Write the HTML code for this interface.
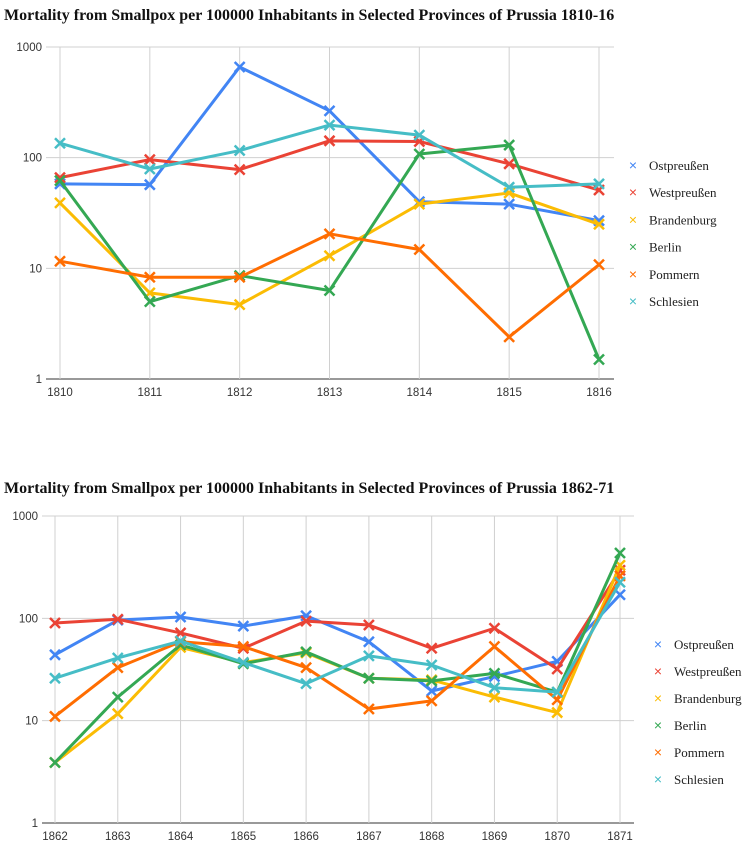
<!DOCTYPE html>
<html><head><meta charset="utf-8"><style>
body{margin:0;background:#fff;width:745px;height:844px;overflow:hidden}
svg{display:block}
.t{font-family:"Liberation Serif",serif;font-weight:bold;font-size:16px;fill:#111}
.tick{font-family:"Liberation Sans",sans-serif;font-size:11.5px;fill:#333}
.leg{font-family:"Liberation Serif",serif;font-size:13px;fill:#222}
</style></head><body>
<svg id="s" width="745" height="844">
<text class="t" x="4" y="20">Mortality from Smallpox per 100000 Inhabitants in Selected Provinces of Prussia 1810-16</text>
<text class="t" x="4" y="493">Mortality from Smallpox per 100000 Inhabitants in Selected Provinces of Prussia 1862-71</text>
</svg>
<script>
const seriesNames=["Ostpreußen","Westpreußen","Brandenburg","Berlin","Pommern","Schlesien"];
const colors=["#4285f4","#ea4335","#fbbc04","#34a853","#ff6d01","#46bdc6"];
const yTicks=[1,10,100,1000];
const years1=["1810","1811","1812","1813","1814","1815","1816"];
const ost1=[58,57,660,265,40,38,27];
const west1=[66,96,78,142,140,88,51];
const brand1=[39,6,4.7,13,38,48,25];
const berlin1=[62,5,8.6,6.3,108,130,1.5];
const pomm1=[11.6,8.3,8.3,20.5,14.8,2.4,10.8];
const schl1=[135,79,116,197,160,54,58];
const years2=["1862","1863","1864","1865","1866","1867","1868","1869","1870","1871"];
const ost2=[44,96,103,84,106,59,19.5,27,38,170];
const west2=[90,98,72,51,94,86,51,80,32,295];
const brand2=[3.9,11.7,52,37,46,26,25,17,12,330];
const berlin2=[3.9,17,55,36,47,26,24.5,29,19,435];
const pomm2=[11,33,59,53,33,13,15.6,53,16,260];
const schl2=[26,41,60,37,23,43,35,21,19,225];

const NS="http://www.w3.org/2000/svg";
const svg=document.getElementById('s');
function mk(tag,a,parent){const e=document.createElementNS(NS,tag);for(const k in a)e.setAttribute(k,a[k]);(parent||svg).appendChild(e);return e;}

function chart(cfg,years,data,id){
  const g=mk('g',{});
  
  
  const xs=i=>cfg.x0+(cfg.x1-cfg.x0)*i/(years.length-1);
  const ys=v=>cfg.y1-(cfg.y1-cfg.y0)*Math.log10(v)/3;
  yTicks.forEach(t=>{
    const l=mk('line',{x1:cfg.gl,x2:cfg.gr,y1:ys(t),y2:ys(t),stroke:t==1?'#333':'#d0d0d0','stroke-width':t==1?1:1},g);
    
    
    const tx=mk('text',{class:'tick',x:cfg.gl-4,y:ys(t)+4,'text-anchor':'end'},g);
    tx.textContent=t;
    
    
  });
  years.forEach((yr,i)=>{
    const l=mk('line',{x1:xs(i),x2:xs(i),y1:cfg.y0,y2:cfg.y1,stroke:'#d0d0d0'},g);
    
    
    const tx=mk('text',{class:'tick',x:xs(i),y:cfg.y1+17,'text-anchor':'middle'},g);
    tx.textContent=yr;
    
    
  });
  data.forEach((d,si)=>{
    const pts=d.map((v,i)=>xs(i)+','+ys(v)).join(' ');
    const pl=mk('polyline',{points:pts,fill:'none',stroke:colors[si],'stroke-width':3,'stroke-linejoin':'round'},g);
    
    
    d.forEach((v,i)=>{
      const x=xs(i),y=ys(v),r=5;
      const p=mk('path',{d:`M${x-r},${y-r}L${x+r},${y+r}M${x+r},${y-r}L${x-r},${y+r}`,stroke:colors[si],'stroke-width':2.5},g);
      
      
    });
    const ly=cfg.ly0+si*cfg.ld;
    const m=mk('text',{x:cfg.lx,y:ly+5,fill:colors[si],'font-family':'Liberation Sans,sans-serif','font-size':'14px','text-anchor':'middle'},g);
    m.textContent='×';
    
    
    const lt=mk('text',{class:'leg',x:cfg.lx+16,y:ly+5},g);
    lt.textContent=seriesNames[si];
    
    
  });
}
chart({x0:60,x1:599,gl:46,gr:614,y0:47,y1:379,lx:633,ly0:165,ld:27.2},years1,[ost1,west1,brand1,berlin1,pomm1,schl1],'chart-1810-16');
chart({x0:55,x1:620,gl:42,gr:634,y0:516,y1:823,lx:658,ly0:644,ld:27},years2,[ost2,west2,brand2,berlin2,pomm2,schl2],'chart-1862-71');
</script>
</body></html>
